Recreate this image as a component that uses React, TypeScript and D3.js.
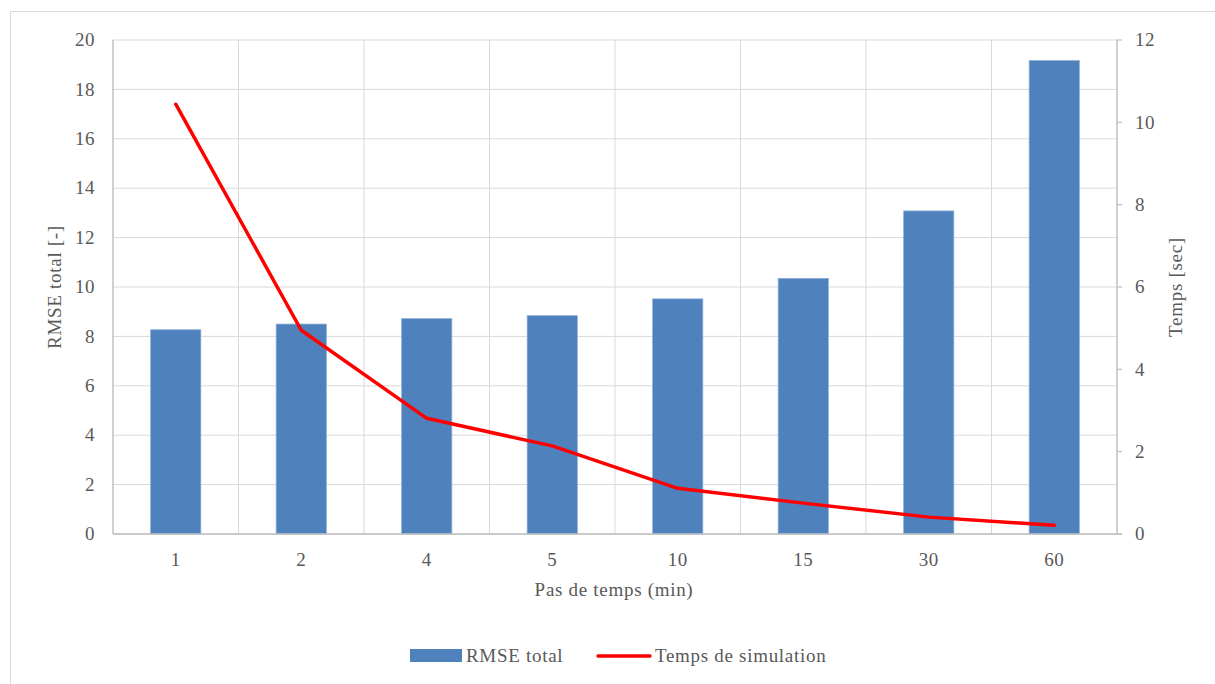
import React from "react";
import * as d3 from "d3";

const categories = ["1", "2", "4", "5", "10", "15", "30", "60"];
const rmseValues = [8.27, 8.5, 8.72, 8.84, 9.52, 10.35, 13.08, 19.17];
const simTimes = [10.44, 4.95, 2.81, 2.14, 1.11, 0.75, 0.41, 0.21];
const leftTicks = [0, 2, 4, 6, 8, 10, 12, 14, 16, 18, 20];
const rightTicks = [0, 2, 4, 6, 8, 10, 12];

const W = 1215;
const H = 684;
const M = { left: 113, right: 1117, top: 40, bottom: 534 };
const FONT = "'Liberation Serif', 'Times New Roman', Times, serif";
const TXT = "#595959";
const GRID = "#d9d9d9";
const AXIS = "#bfbfbf";
const FS = 19;

export default function App() {
  const x = d3.scaleBand<string>().domain(categories).range([M.left, M.right]).paddingInner(0).paddingOuter(0);
  const yL = d3.scaleLinear().domain([0, 20]).range([M.bottom, M.top]);
  const yR = d3.scaleLinear().domain([0, 12]).range([M.bottom, M.top]);
  const bw = x.bandwidth() * 0.4;
  const line = d3
    .line<number>()
    .x((_, i) => (x(categories[i]) as number) + x.bandwidth() / 2)
    .y((d) => yR(d));

  const boundaries = categories.map((c) => x(c) as number).concat([M.right]);
  const ts = { fontFamily: FONT, fontSize: FS, fill: TXT, letterSpacing: "0.7px" } as React.CSSProperties;
  const tn = { fontFamily: FONT, fontSize: FS, fill: TXT, letterSpacing: "0.5px" } as React.CSSProperties;

  return (
    <svg
      width={W}
      height={H}
      style={{ position: "absolute", left: 0, top: 0, display: "block", background: "#fff", fontFamily: FONT }}
    >
      <rect x={10.5} y={11.5} width={1220} height={700} fill="none" stroke={GRID} strokeWidth={1} />
      {leftTicks.map((t) => (
        <line key={"h" + t} x1={M.left} x2={M.right} y1={yL(t)} y2={yL(t)} stroke={GRID} strokeWidth={1} />
      ))}
      {boundaries.map((b, i) => (
        <line key={"v" + i} x1={b} x2={b} y1={M.top} y2={M.bottom} stroke={GRID} strokeWidth={1} />
      ))}
      {rmseValues.map((v, i) => {
        const cx = (x(categories[i]) as number) + x.bandwidth() / 2;
        return (
          <rect
            key={"b" + i}
            x={cx - bw / 2}
            y={yL(v)}
            width={bw}
            height={yL(0) - yL(v)}
            fill="#4F81BD"
            stroke="#8eaedb"
            strokeWidth={0.75}
          />
        );
      })}
      <line x1={M.left} x2={M.left} y1={M.top} y2={M.bottom} stroke={AXIS} strokeWidth={1.2} />
      <line x1={M.right} x2={M.right} y1={M.top} y2={M.bottom} stroke={AXIS} strokeWidth={1.2} />
      <line x1={M.left} x2={M.right + 5} y1={M.bottom} y2={M.bottom} stroke={AXIS} strokeWidth={1.5} />
      {rightTicks.map((t) => (
        <line key={"rt" + t} x1={M.right} x2={M.right + 5} y1={yR(t)} y2={yR(t)} stroke={AXIS} strokeWidth={1.2} />
      ))}
      <path d={line(simTimes) || ""} fill="none" stroke="#FF0000" strokeWidth={3.5} strokeLinejoin="round" strokeLinecap="round" />
      {leftTicks.map((t) => (
        <text key={"lt" + t} x={95} y={yL(t)} dy="0.33em" textAnchor="end" style={tn}>
          {t}
        </text>
      ))}
      {rightTicks.map((t) => (
        <text key={"rl" + t} x={1135} y={yR(t)} dy="0.33em" textAnchor="start" style={tn}>
          {t}
        </text>
      ))}
      {categories.map((c) => (
        <text key={"c" + c} x={(x(c) as number) + x.bandwidth() / 2} y={560} dy="0.33em" textAnchor="middle" style={tn}>
          {c}
        </text>
      ))}
      <text x={614} y={590} dy="0.33em" textAnchor="middle" style={ts}>
        Pas de temps (min)
      </text>
      <text transform={`translate(55, ${(M.top + M.bottom) / 2}) rotate(-90)`} dy="0.33em" textAnchor="middle" style={ts}>
        RMSE total [-]
      </text>
      <text transform={`translate(1176, ${(M.top + M.bottom) / 2}) rotate(-90)`} dy="0.33em" textAnchor="middle" style={ts}>
        Temps [sec]
      </text>
      <rect x={410} y={649} width={52} height={13} fill="#4F81BD" />
      <text x={466} y={656} dy="0.33em" style={ts}>
        RMSE total
      </text>
      <line x1={598} x2={650} y1={656} y2={656} stroke="#FF0000" strokeWidth={3.5} strokeLinecap="round" />
      <text x={655} y={656} dy="0.33em" style={ts}>
        Temps de simulation
      </text>
    </svg>
  );
}
